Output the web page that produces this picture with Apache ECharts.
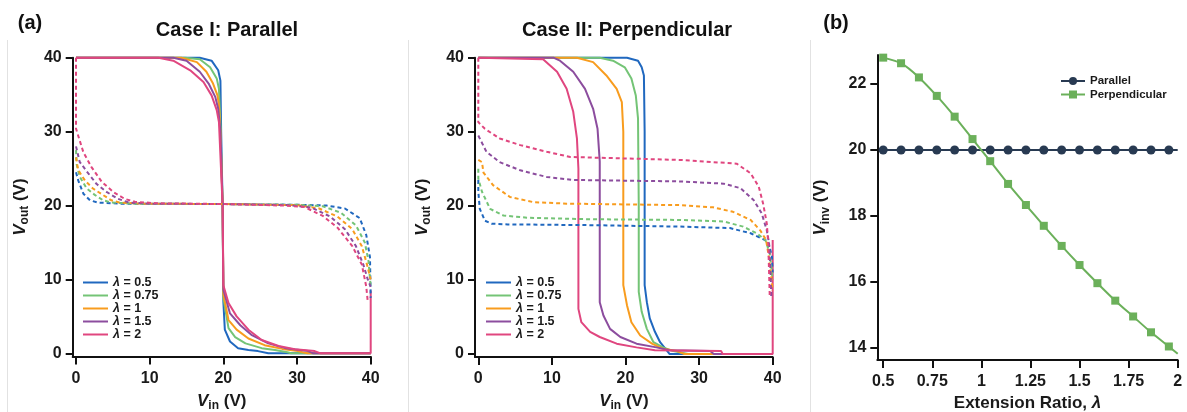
<!DOCTYPE html>
<html>
<head>
<meta charset="utf-8">
<script src="https://cdn.jsdelivr.net/npm/echarts@6/dist/echarts.min.js"></script>
<style>
  html, body { margin: 0; padding: 0; background: #fff; }
  #main { width: 1187px; height: 412px; }
</style>
</head>
<body>
<div id="main"></div>
<script>
// tick labels
var ticksA = [0, 10, 20, 30, 40];
var ticksBx = [0.5, 0.75, 1, 1.25, 1.5, 1.75, 2];
var ticksBy = [14, 16, 18, 20, 22];
var lambdas = ['0.5', '0.75', '1', '1.5', '2'];

// (a) Case I: Parallel - solid curves
var parSolid05 = [[0,40],[16.8,40],[18.4,39.6],[19.3,38.3],[19.6,36.9],[19.7,30],[19.9,20],[20,7],[20.2,3.2],[20.9,1.6],[22,0.7],[23.4,0.45],[24.7,0.3],[26.1,0],[40,0]];
var parSolid075 = [[0,40],[14.8,40],[16.8,39.8],[18.2,38.7],[19.1,37.2],[19.4,35.8],[19.6,31],[19.9,20],[20,7.5],[20.7,3.4],[21.6,2.2],[23,1.35],[25.2,0.7],[27,0.45],[28.7,0.15],[29.2,0],[40,0]];
var parSolid1 = [[0,40],[14.3,40],[16.4,39.4],[17.7,38.1],[18.6,36.5],[19.2,34.9],[19.4,33.6],[19.6,30],[19.9,20],[20,8],[20.7,4.5],[21.8,3.2],[23.4,2],[25.6,1.1],[28,0.6],[30.1,0.3],[31.4,0],[40,0]];
var parSolid15 = [[0,40],[13.2,40],[15,39.6],[16.8,38.1],[18,36.5],[18.9,34.7],[19.3,33.1],[19.6,30],[19.9,20],[20,8.6],[20.9,5.4],[22.3,3.8],[23.8,2.5],[26.1,1.35],[28.4,0.7],[31.5,0.3],[32.2,0],[40,0]];
var parSolid2 = [[0,40],[11.2,40],[13.2,39.6],[15.5,38.3],[17.3,36.7],[18.4,34.9],[19.1,32.9],[19.4,31.3],[19.9,20],[20,9.2],[20.7,6.8],[21.8,5],[23.4,3.2],[25.2,1.8],[27.5,1],[29.7,0.55],[32.4,0.3],[33.2,0],[40,0],[40,8.5]];

// (a) Case I: Parallel - dashed curves
var parDash05 = [[0,24.5],[0.3,23.4],[1,21.6],[1.9,20.7],[3,20.4],[6,20.25],[20,20.2],[30,20.1],[34,20],[36.5,19.6],[38.5,18.3],[39.4,16],[39.9,13],[40,7.5]];
var parDash075 = [[0,27.5],[0.1,25.5],[0.5,23.9],[1.45,22.3],[2.6,21.4],[3.7,20.7],[4.8,20.4],[8,20.25],[20,20.2],[30,20.1],[33.5,19.9],[36,19],[38,17.3],[39.2,15],[39.7,12.5],[40,9]];
var parDash1 = [[0,26.5],[0.3,24.8],[1.2,23.4],[2.3,22.3],[3.7,21.4],[4.8,20.7],[5.9,20.4],[9,20.25],[20,20.2],[30,20.05],[33,19.6],[35.5,18.5],[37.5,16.8],[38.8,14.5],[39.5,12],[40,10]];
var parDash15 = [[0,28],[0.5,25.9],[1.7,24.3],[2.8,22.9],[4.2,21.8],[5.7,20.9],[7.2,20.4],[10,20.25],[20,20.2],[29,20.05],[32,19.7],[34.5,18.5],[36.5,16.8],[38,14.5],[39,12],[39.6,10],[40,9]];
var parDash2 = [[0,40],[0,30.4],[1,27.2],[2.1,25.2],[3.5,23.2],[5.1,21.8],[6.6,20.9],[8,20.5],[11,20.3],[20,20.2],[28,20],[31,19.8],[33.5,18.6],[35.5,17],[37.5,14.5],[38.8,12],[39.4,9],[39.6,7]];

// (a) Case II: Perpendicular - solid curves
var perSolid05 = [[0,40],[20.2,40],[21.7,39.6],[22.2,38.7],[22.5,37.6],[22.6,30],[22.6,20],[22.6,9.3],[22.9,7],[23.3,4.8],[24,3],[24.7,1.6],[25.6,0.5],[26,0],[40,0]];
var perSolid075 = [[0,40],[16.5,40],[18.3,39.6],[19.9,38.7],[20.8,37.2],[21.4,34.9],[21.7,31.8],[21.8,20],[21.8,8.4],[22.2,5.7],[22.9,3.4],[23.8,1.6],[25.1,0.9],[26.5,0.4],[28.5,0],[40,0]];
var perSolid1 = [[0,40],[13.4,40],[15.6,39.4],[17.4,37.6],[18.8,35.8],[19.5,34],[19.7,30],[19.7,9.3],[20.2,6.6],[20.8,4.3],[22,2.5],[23.6,1.4],[25.1,0.7],[27,0.4],[28,0],[40,0]];
var perSolid15 = [[0,40],[10.2,40],[11.1,39.6],[12.9,38.1],[14.5,35.8],[15.6,33.1],[16.2,30.4],[16.5,26],[16.5,7],[17,5.2],[17.9,3.4],[19.3,2.3],[21.5,1.4],[24.2,0.9],[26,0.5],[31.5,0.4],[32,0],[40,0]];
var perSolid2 = [[0,40],[8.8,39.8],[10.7,38.1],[12,35.8],[12.9,32.7],[13.4,29.1],[13.6,25],[13.6,6.1],[14,4.3],[15.2,3],[16.5,2.3],[18.8,1.4],[21.5,0.9],[24,0.5],[33,0.4],[33.2,0],[40,0],[40,15.4]];

// (a) Case II: Perpendicular - dashed curves
var perDash05 = [[0,23.5],[0,21.9],[0.2,19.6],[0.9,18],[1.8,17.6],[4,17.5],[15,17.4],[27.4,17.2],[34.2,17],[37,16.3],[38.5,15.6],[39.4,15.2],[39.9,13.1],[40,11]];
var perDash075 = [[0,25],[0,23.7],[0.5,21.9],[1.6,19.6],[3.4,18.7],[6.6,18.4],[15,18.2],[27.4,18.1],[33.3,17.9],[36,17.2],[37.8,16.3],[39,15.4],[39.6,13.6],[40,10]];
var perDash1 = [[0,26.2],[0.5,25.9],[0.7,24.5],[2,22.8],[4.3,21.2],[7.5,20.5],[12,20.3],[27.4,20.1],[31.9,19.8],[34.6,19.2],[37,18.1],[38.3,16.7],[39.1,15.4],[39.5,13],[40,8.6]];
var perDash15 = [[0,29.5],[1.1,27.3],[2.9,25.9],[5.7,24.8],[9.3,23.9],[12.9,23.5],[20,23.4],[27.4,23.3],[33.3,23],[35.6,22.4],[37.4,20.8],[38.5,19],[39.2,16.7],[39.5,15],[39.7,11.3],[39.8,7.7]];
var perDash2 = [[0,40],[0,31.3],[0.9,30.4],[2.9,29.1],[5.7,28.2],[9.3,27.3],[12.5,26.6],[20,26.4],[27.4,26.2],[35.1,25.7],[37,24.4],[38.1,22.6],[38.7,20.3],[39.2,17.6],[39.4,14.9],[39.6,7.7]];

// (b) inversion voltage vs extension ratio
var ratioB = [0.5, 0.591, 0.682, 0.773, 0.864, 0.955, 1.045, 1.136, 1.227, 1.318, 1.409, 1.5, 1.591, 1.682, 1.773, 1.864, 1.955];
var vinvParallel = [20, 20, 20, 20, 20, 20, 20, 20, 20, 20, 20, 20, 20, 20, 20, 20, 20];
var vinvPerp = [22.80, 22.63, 22.20, 21.64, 21.01, 20.33, 19.66, 18.97, 18.33, 17.70, 17.09, 16.51, 15.96, 15.43, 14.95, 14.47, 14.04];
var endB = [2, 20, 13.82]; // lambda, parallel, perpendicular at the right end of the lines

var colors = ['#2068bf', '#74c476', '#f89c1e', '#8c4d9e', '#e0467f'];
var FONT = 'Liberation Sans, Arial, sans-serif';

var parSolid = [parSolid05, parSolid075, parSolid1, parSolid15, parSolid2];
var parDash = [parDash05, parDash075, parDash1, parDash15, parDash2];
var perSolid = [perSolid05, perSolid075, perSolid1, perSolid15, perSolid2];
var perDash = [perDash05, perDash075, perDash1, perDash15, perDash2];

function curve(name, data, idx, color, dashed) {
    return {
        name: name,
        type: 'line',
        xAxisIndex: idx,
        yAxisIndex: idx,
        data: data,
        symbol: 'none',
        clip: false,
        animation: false,
        lineStyle: { color: color, width: 2, type: dashed ? [4, 3] : 'solid' },
        itemStyle: { color: color }
    };
}

var series = [];
for (var i = 0; i < 5; i++) series.push(curve(lambdas[i], parSolid[i], 0, colors[i], false));
for (var i = 0; i < 5; i++) series.push(curve(lambdas[i], parDash[i], 0, colors[i], true));
for (var i = 0; i < 5; i++) series.push(curve(lambdas[i], perSolid[i], 1, colors[i], false));
for (var i = 0; i < 5; i++) series.push(curve(lambdas[i], perDash[i], 1, colors[i], true));

function pairs(xs, ys, last) {
    var out = [];
    for (var k = 0; k < xs.length; k++) out.push([xs[k], ys[k]]);
    out.push({ value: last, symbol: 'none' });
    return out;
}

series.push({
    name: 'Parallel', type: 'line', xAxisIndex: 2, yAxisIndex: 2,
    data: pairs(ratioB, vinvParallel, [endB[0], endB[1]]),
    symbol: 'circle', symbolSize: 9, showAllSymbol: true, clip: false, animation: false,
    lineStyle: { color: '#283a52', width: 2 }, itemStyle: { color: '#283a52' }
});
series.push({
    name: 'Perpendicular', type: 'line', xAxisIndex: 2, yAxisIndex: 2,
    data: pairs(ratioB, vinvPerp, [endB[0], endB[2]]),
    symbol: 'rect', symbolSize: 8, showAllSymbol: true, clip: false, animation: false, smooth: 0.2,
    lineStyle: { color: '#6bb05a', width: 2 }, itemStyle: { color: '#6bb05a' }
});

var labelStyle = { fontFamily: FONT, fontSize: 16, fontWeight: 'bold', color: '#1a1a1a' };
var lineStyleAx = { color: '#111', width: 2 };

function xAx(idx, min, max, ticks, nameText) {
    return {
        type: 'value', gridIndex: idx, min: min, max: max,
        axisLine: { show: true, onZero: false, lineStyle: lineStyleAx },
        axisTick: { show: true, length: 8, lineStyle: lineStyleAx, customValues: ticks },
        axisLabel: Object.assign({ margin: 14, customValues: ticks }, labelStyle),
        splitLine: { show: false },
        name: nameText, nameLocation: 'middle', nameGap: 34,
        nameTextStyle: {
            fontFamily: FONT, fontSize: 17, fontWeight: 'bold', color: '#1a1a1a',
            rich: {
                v: { fontFamily: FONT, fontSize: 17, fontWeight: 'bold', fontStyle: 'italic', color: '#1a1a1a' },
                s: { fontFamily: FONT, fontSize: 12, fontWeight: 'bold', color: '#1a1a1a', padding: [9, 0, 0, 0] },
                n: { fontFamily: FONT, fontSize: 17, fontWeight: 'bold', color: '#1a1a1a' }
            }
        }
    };
}
function yAx(idx, min, max, ticks, nameText, gap) {
    var a = xAx(idx, min, max, ticks, nameText);
    a.axisLabel.margin = 11;
    a.nameGap = gap;
    a.axisTick.length = 7;
    return a;
}

function lambdaLegend(left) {
    return {
        data: lambdas, left: left, top: 276, orient: 'vertical', padding: 0,
        itemWidth: 25, itemHeight: 12, itemGap: 0,
        itemStyle: { opacity: 0 },
        formatter: function (n) { return '{i|λ} = ' + n; },
        textStyle: {
            fontFamily: FONT, fontSize: 12.5, fontWeight: 'bold', color: '#1a1a1a', lineHeight: 12,
            rich: { i: { fontFamily: FONT, fontSize: 12.5, fontWeight: 'bold', fontStyle: 'italic', color: '#1a1a1a', lineHeight: 12 } }
        }
    };
}

var option = {
    animation: false,
    backgroundColor: '#fff',
    grid: [
        { left: 72.7, top: 57.7, width: 298, height: 298.8, outerBoundsMode: 'none' },
        { left: 475, top: 57.7, width: 297.7, height: 299.3, outerBoundsMode: 'none' },
        { left: 877.3, top: 55, width: 300.4, height: 305, outerBoundsMode: 'none' }
    ],
    xAxis: [
        xAx(0, -0.45, 40, ticksA, '{v|V}{s|in}{n| (V)}'),
        xAx(1, -0.45, 40, ticksA, '{v|V}{s|in}{n| (V)}'),
        xAx(2, 0.47, 2, ticksBx, '{n|Extension Ratio, }{v|λ}')
    ],
    yAxis: [
        yAx(0, -0.43, 40, ticksA, '{v|V}{s|out}{n| (V)}', 42),
        yAx(1, -0.4, 40, ticksA, '{v|V}{s|out}{n| (V)}', 42),
        yAx(2, 13.63, 22.88, ticksBy, '{v|V}{s|inv}{n| (V)}', 46)
    ],
    legend: [
        lambdaLegend(82),
        lambdaLegend(485),
        {
            data: ['Parallel', 'Perpendicular'], left: 1060, top: 75, orient: 'vertical', padding: 0,
            itemWidth: 24, itemHeight: 10, itemGap: 1.5,
            textStyle: { fontFamily: FONT, fontSize: 11.5, fontWeight: 'bold', color: '#1a1a1a', lineHeight: 12 }
        }
    ],
    graphic: [
        { type: 'line', shape: { x1: 7.5, y1: 40, x2: 7.5, y2: 412 }, style: { stroke: '#e2e2e2', lineWidth: 1 } },
        { type: 'line', shape: { x1: 408.5, y1: 40, x2: 408.5, y2: 412 }, style: { stroke: '#e2e2e2', lineWidth: 1 } },
        { type: 'line', shape: { x1: 810.5, y1: 40, x2: 810.5, y2: 412 }, style: { stroke: '#e2e2e2', lineWidth: 1 } },
        { type: 'text', x: 30, y: 23, style: { text: '(a)', font: 'bold 20px ' + FONT, fill: '#111', align: 'center', verticalAlign: 'middle' } },
        { type: 'text', x: 836, y: 23, style: { text: '(b)', font: 'bold 20px ' + FONT, fill: '#111', align: 'center', verticalAlign: 'middle' } },
        { type: 'text', x: 227, y: 30, style: { text: 'Case I: Parallel', font: 'bold 20px ' + FONT, fill: '#111', align: 'center', verticalAlign: 'middle' } },
        { type: 'text', x: 627, y: 30, style: { text: 'Case II: Perpendicular', font: 'bold 20px ' + FONT, fill: '#111', align: 'center', verticalAlign: 'middle' } }
    ],
    series: series
};

var chart = echarts.init(document.getElementById('main'), null, { renderer: 'canvas' });
chart.setOption(option);
</script>
</body>
</html>
